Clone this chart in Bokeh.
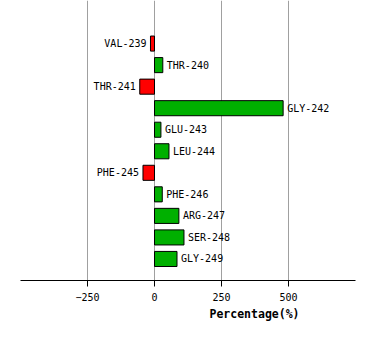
from bokeh.plotting import figure
from bokeh.models import ColumnDataSource, Range1d, FixedTicker, Title
from bokeh.core.properties import value
from bokeh.embed import file_html
from bokeh.resources import INLINE

residues = ["VAL-239", "THR-240", "THR-241", "GLY-242", "GLU-243", "LEU-244",
            "PHE-245", "PHE-246", "ARG-247", "SER-248", "GLY-249"]
percentages = [-15, 31, -55, 480, 24, 54, -43, 29, 91, 110, 84]
tick_values = [-250, 0, 250, 500]

pos = list(range(len(residues)))
colors = ["#00B000" if v >= 0 else "#FF0000" for v in percentages]
aligns = ["left" if v >= 0 else "right" for v in percentages]
offsets = [4 if v >= 0 else -4 for v in percentages]

src = ColumnDataSource(dict(y=pos, v=percentages, name=residues, color=colors,
                            align=aligns, off=offsets))

p = figure(width=374, height=340, output_backend="svg", toolbar_location=None,
           x_range=Range1d(-500, 750), y_range=Range1d(len(residues), -2),
           y_axis_location=None, min_border_left=20, min_border_right=19,
           min_border_top=0, min_border_bottom=60)
p.outline_line_color = None
p.background_fill_color = "white"

p.hbar(y="y", left=0, right="v", height=0.7, fill_color="color",
       line_color="black", line_width=1, source=src)
p.text(x="v", y="y", text="name", x_offset="off", text_align="align",
       text_baseline="middle", text_font=value("DejaVu Sans Mono"),
       text_font_size="10px", text_color="black", source=src)

p.xaxis.ticker = FixedTicker(ticks=tick_values)
p.xaxis.axis_line_color = "black"
p.xaxis.major_tick_line_color = "black"
p.xaxis.major_tick_out = 6
p.xaxis.major_tick_in = 0
p.xaxis.minor_tick_line_color = None
p.xaxis.major_label_text_font = "DejaVu Sans Mono"
p.xaxis.major_label_text_font_size = "10px"
p.xaxis.major_label_text_color = "black"
p.xaxis.major_label_standoff = 6

p.xgrid.ticker = FixedTicker(ticks=tick_values)
p.xgrid.grid_line_color = "#A0A0A0"
p.ygrid.grid_line_color = None

p.add_layout(Title(text="Percentage(%)", align="left", offset=189,
                   text_font="DejaVu Sans Mono", text_font_style="bold",
                   text_font_size="11.5px", text_color="black", standoff=2),
             "below")

open("out.html", "w").write(file_html(p, INLINE))
